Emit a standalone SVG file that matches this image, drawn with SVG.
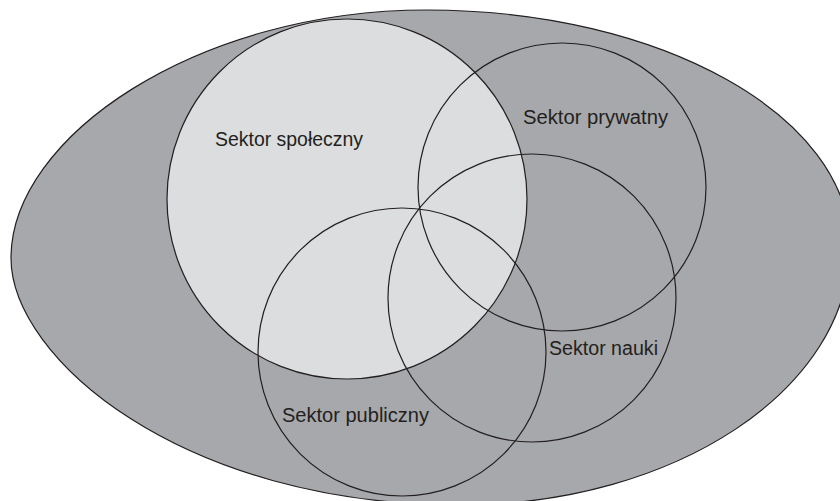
<svg xmlns="http://www.w3.org/2000/svg" width="840" height="501" viewBox="0 0 840 501">
  <style>
    .outline { stroke: #231f20; stroke-width: 1.2; }
    .ring { fill: none; stroke: #231f20; stroke-width: 1.2; }
    .label { font-family: "Liberation Sans", Arial, sans-serif; font-size: 19.5px; fill: #231f20; }
  </style>
  <rect width="840" height="501" fill="#ffffff"/>
  <g id="environment">
    <path class="outline" fill="#a7a8ab" d="M11,258 C11,137 197,10 427,10 C661,10 850,116 850,246 C850,389 675,505 460,505 C182,505 11,358 11,258 Z"/>
  </g>
  <g id="sektor-spoleczny">
    <circle class="outline" cx="347" cy="199" r="180" fill="#dcdddf"/>
    <text class="label" x="215" y="146" textLength="148" lengthAdjust="spacingAndGlyphs">Sektor społeczny</text>
  </g>
  <g id="sektor-prywatny">
    <circle class="ring" cx="562" cy="187" r="144"/>
    <text class="label" x="523" y="124" textLength="145" lengthAdjust="spacingAndGlyphs">Sektor prywatny</text>
  </g>
  <g id="sektor-nauki">
    <circle class="ring" cx="532" cy="298" r="144"/>
    <text class="label" x="549" y="355" textLength="109" lengthAdjust="spacingAndGlyphs">Sektor nauki</text>
  </g>
  <g id="sektor-publiczny">
    <circle class="ring" cx="402" cy="352" r="144"/>
    <text class="label" x="282" y="422" textLength="147" lengthAdjust="spacingAndGlyphs">Sektor publiczny</text>
  </g>
  <g id="connectors"/>
</svg>
